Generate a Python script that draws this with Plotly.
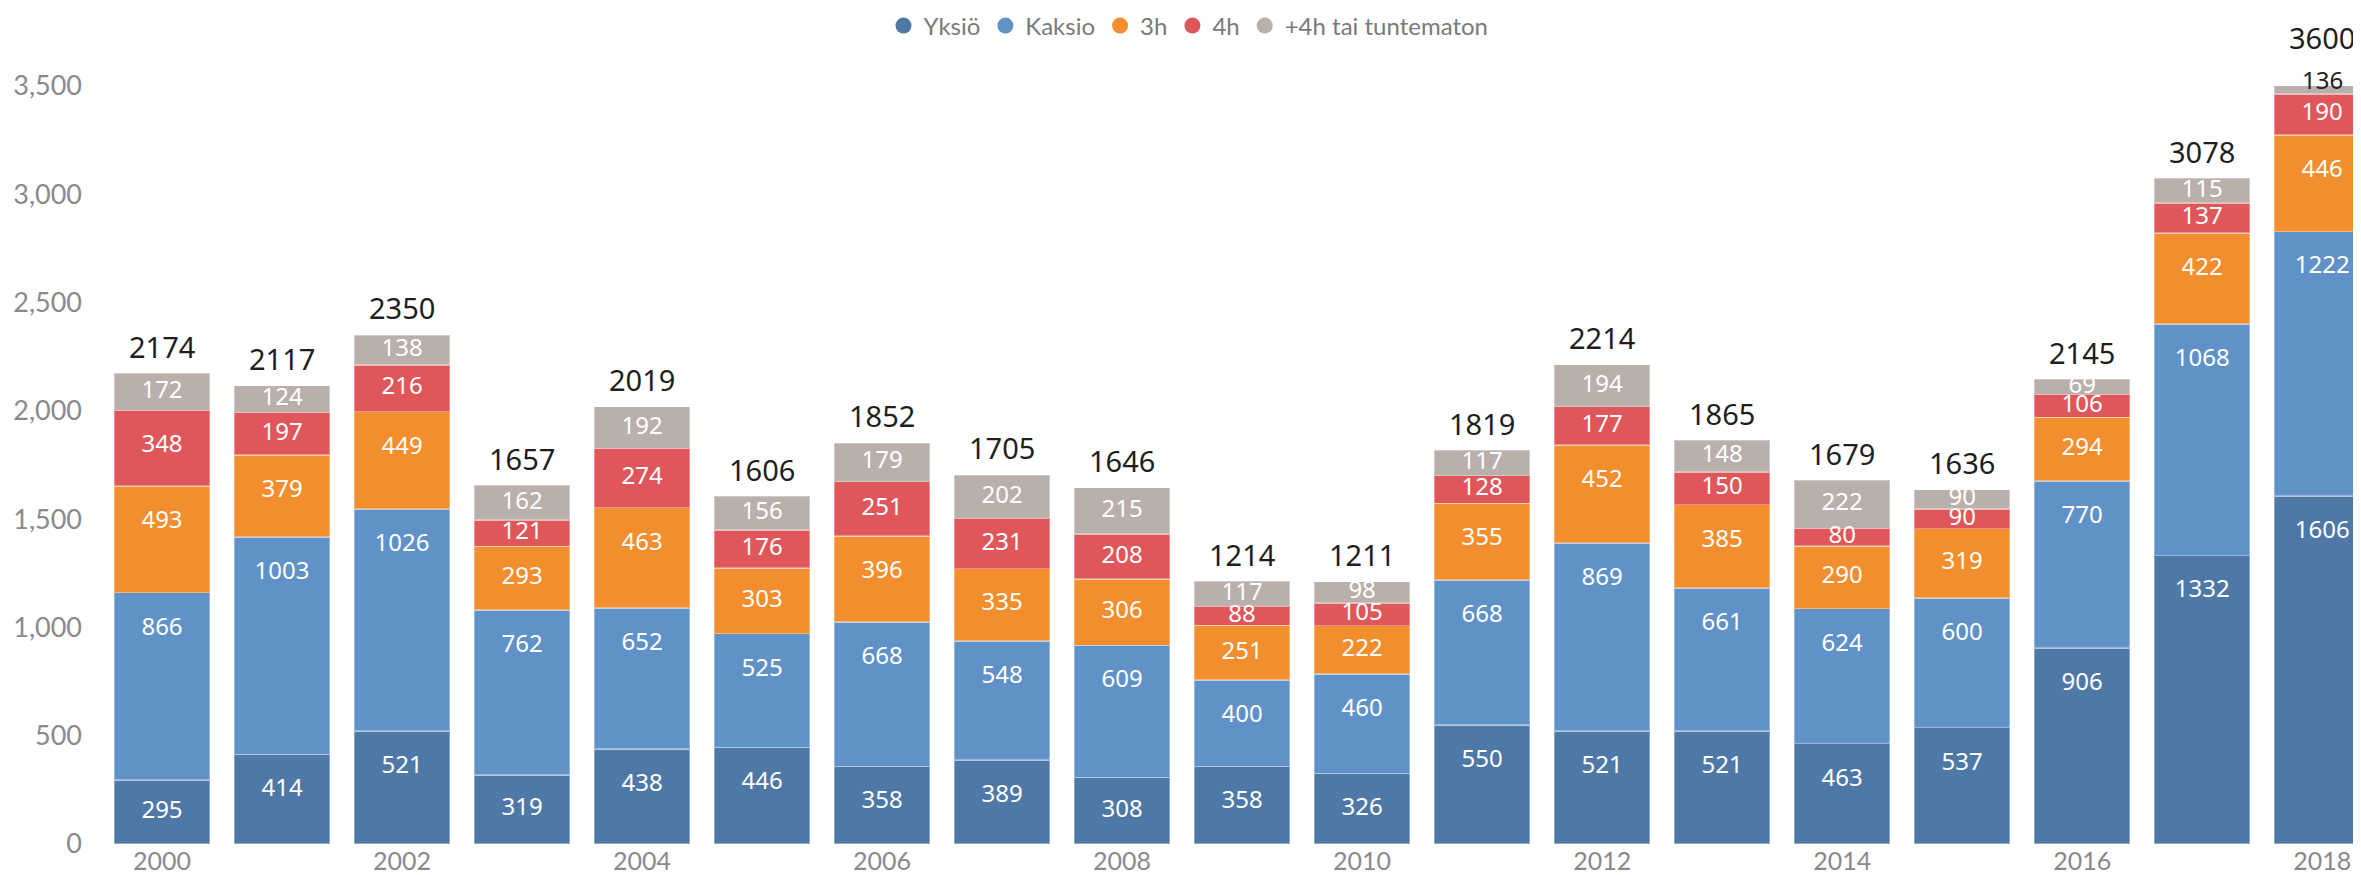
import plotly.graph_objects as go
import numpy as np

years = list(range(2000, 2019))
yksio = [295, 414, 521, 319, 438, 446, 358, 389, 308, 358, 326, 550, 521, 521, 463, 537, 906, 1332, 1606]
kaksio = [866, 1003, 1026, 762, 652, 525, 668, 548, 609, 400, 460, 668, 869, 661, 624, 600, 770, 1068, 1222]
h3 = [493, 379, 449, 293, 463, 303, 396, 335, 306, 251, 222, 355, 452, 385, 290, 319, 294, 422, 446]
h4 = [348, 197, 216, 121, 274, 176, 251, 231, 208, 88, 105, 128, 177, 150, 80, 90, 106, 137, 190]
muu = [172, 124, 138, 162, 192, 156, 179, 202, 215, 117, 98, 117, 194, 148, 222, 90, 69, 115, 136]
totals = [2174, 2117, 2350, 1657, 2019, 1606, 1852, 1705, 1646, 1214, 1211, 1819, 2214, 1865, 1679, 1636, 2145, 3078, 3600]
tick_years = years[::2]

series = [
    ("Yksiö", yksio, "#4E78A5"),
    ("Kaksio", kaksio, "#6092C8"),
    ("3h", h3, "#F28E2D"),
    ("4h", h4, "#E0575B"),
    ("+4h tai tuntematon", muu, "#B9B0AB"),
]

YMIN, YMAX = 0, 3500
LABEL_CAP = 166   # max distance (data units) of a segment label below the segment top
TOTAL_OFFSET = 125
SEG_FONT = dict(family="Noto Sans", size=24)
TOT_FONT = dict(family="Noto Sans", size=29, color="#1e1e1e")


def label_annotation(x, y, text, font):
    """Annotation centred at data (x, y); points above the axis range use y-domain units."""
    common = dict(x=x, xref="x", text=text, showarrow=False, font=font,
                  xanchor="center", yanchor="middle")
    if y <= YMAX:
        return dict(y=y, yref="y", **common)
    return dict(y=(y - YMIN) / (YMAX - YMIN), yref="y domain", **common)


fig = go.Figure()
base = np.zeros(len(years))
label_traces = []
annotations = []
for name, vals, color in series:
    v = np.array(vals, dtype=float)
    fig.add_trace(go.Bar(
        x=years, y=vals, name=name,
        marker=dict(color=color, line=dict(color="rgba(255,255,255,0.35)", width=1.5)),
        showlegend=False, hoverinfo="skip",
    ))
    top = base + v
    ly = top - np.minimum(v / 2, LABEL_CAP)
    inside = ly <= YMAX
    label_traces.append(go.Scatter(
        x=[yr for yr, ok in zip(years, inside) if ok],
        y=[y for y, ok in zip(ly, inside) if ok],
        mode="text", text=[str(x) for x, ok in zip(vals, inside) if ok],
        textposition="middle center",
        textfont=dict(color="white", **SEG_FONT),
        showlegend=False, hoverinfo="skip", cliponaxis=False,
    ))
    for yr, y, val, ok in zip(years, ly, vals, inside):
        if not ok:
            annotations.append(label_annotation(yr, y, str(val), dict(color="#222222", **SEG_FONT)))
    base = top

for t in label_traces:
    fig.add_trace(t)

for yr, y, tot in zip(years, base + TOTAL_OFFSET, totals):
    annotations.append(label_annotation(yr, y, str(tot), TOT_FONT))

# legend entries with circle symbols
for name, vals, color in series:
    fig.add_trace(go.Scatter(
        x=[None], y=[None], mode="markers", name=name,
        marker=dict(symbol="circle", size=22, color=color),
    ))

fig.update_layout(
    width=2361, height=875,
    barmode="stack", bargap=0.2,
    plot_bgcolor="white", paper_bgcolor="white",
    margin=dict(l=94, r=0, t=78, b=39),
    annotations=annotations,
    legend=dict(orientation="h", xref="container", x=0.5, xanchor="center",
                yref="container", y=1.0 - 18 / 875, yanchor="middle",
                traceorder="normal",
                font=dict(family="Lato", size=24, color="#7a7a7a"),
                itemwidth=30, tracegroupgap=0),
    xaxis=dict(range=[1999.5, 2018.39], tickmode="array", tickvals=tick_years,
               ticktext=[str(y) for y in tick_years], showgrid=False, zeroline=False,
               showline=False, ticks="", ticklabelstandoff=0,
               tickfont=dict(family="Lato", size=25, color="#8a8a8a")),
    yaxis=dict(range=[YMIN, YMAX], dtick=500, tickformat=",d", showgrid=False, zeroline=False,
               showline=False, ticks="", ticklabelstandoff=19,
               tickfont=dict(family="Lato", size=27, color="#8a8a8a")),
)

fig.write_html("out.html")
